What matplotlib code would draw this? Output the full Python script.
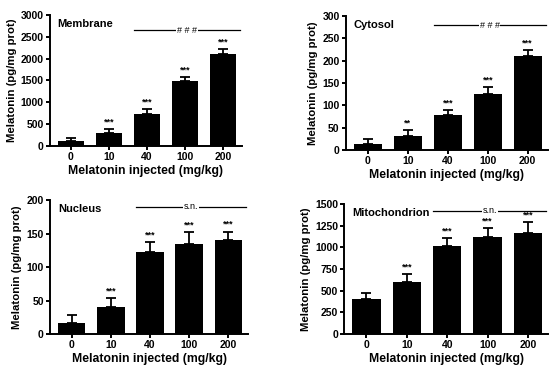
import matplotlib
matplotlib.use("Agg")
import matplotlib.pyplot as plt
import numpy as np

plt.rcParams['font.family'] = ['Liberation Sans', 'DejaVu Sans']
plt.rcParams['font.weight'] = 'bold'

doses = ["0", "10", "40", "100", "200"]

membrane = [118, 300, 742, 1484, 2096]
membrane_err = [72, 77, 92, 84, 115]
membrane_stars = ["", "***", "***", "***", "***"]

cytosol = [13, 31, 78, 125, 211]
cytosol_err = [11, 13, 11, 16, 12]
cytosol_stars = ["", "**", "***", "***", "***"]

nucleus = [17, 41, 123, 135, 140]
nucleus_err = [11, 13, 14, 17, 13]
nucleus_stars = ["", "***", "***", "***", "***"]

mito = [404, 604, 1019, 1123, 1169]
mito_err = [73, 84, 85, 96, 119]
mito_stars = ["", "***", "***", "***", "***"]

fig = plt.figure(figsize=(5.56, 3.75), dpi=100)


def panel(rect, vals, errs, stars, title, ymax, ystep, line_y, line_txt, stars_off=2):
    ax = fig.add_axes(rect)
    x = np.arange(len(doses))
    ax.bar(x, vals, width=0.7, color="black", zorder=2)
    ax.errorbar(x, vals, yerr=[np.zeros(len(errs)), errs], fmt="none",
                ecolor="black", elinewidth=1.3, capsize=3.5, capthick=1.3, zorder=1)
    for xi, v, e, s in zip(x, vals, errs, stars):
        if s:
            ax.annotate(s, (xi, v + e), xytext=(0, stars_off), textcoords="offset points",
                        ha="center", va="bottom", fontsize=6.5, fontweight="bold")
    ax.set_xlim(-0.55, 4.5)
    ax.set_ylim(0, ymax)
    ax.set_yticks(np.arange(0, ymax + 1, ystep))
    ax.set_xticks(x)
    ax.set_xticklabels(doses)
    for sp in ["top", "right"]:
        ax.spines[sp].set_visible(False)
    for sp in ["left", "bottom"]:
        ax.spines[sp].set_linewidth(1.4)
    ax.tick_params(axis="both", direction="out", width=1.4, length=3, labelsize=7.5, pad=1.5)
    for lab in ax.get_xticklabels() + ax.get_yticklabels():
        lab.set_fontweight("bold")
    ax.set_xlabel("Melatonin injected (mg/kg)", fontsize=8.8, fontweight="bold", labelpad=2)
    ax.set_ylabel("Melatonin (pg/mg prot)", fontsize=8.2, fontweight="bold", labelpad=3)
    ax.text(0.04, 0.97, title, transform=ax.transAxes, ha="left", va="top",
            fontsize=8, fontweight="bold")
    # significance line over 40..200
    ax.plot([1.65, 4.45], [line_y, line_y], color="black", lw=0.9, clip_on=False)
    ax.text(3.05, line_y, line_txt, ha="center", va="center", fontsize=6.5,
            fontweight="normal", bbox=dict(facecolor="white", edgecolor="none", pad=0.5))
    return ax


panel([0.090, 0.611, 0.345, 0.349], membrane, membrane_err, membrane_stars,
      "Membrane", 3000, 500, 2650, "# # #")
panel([0.622, 0.600, 0.363, 0.357], cytosol, cytosol_err, cytosol_stars,
      "Cytosol", 300, 50, 279, "# # #")
panel([0.090, 0.109, 0.356, 0.357], nucleus, nucleus_err, nucleus_stars,
      "Nucleus", 200, 50, 190, "s.n.")
panel([0.619, 0.109, 0.367, 0.347], mito, mito_err, mito_stars,
      "Mitochondrion", 1500, 250, 1423, "s.n.")

fig.savefig("out.png", dpi=100)
